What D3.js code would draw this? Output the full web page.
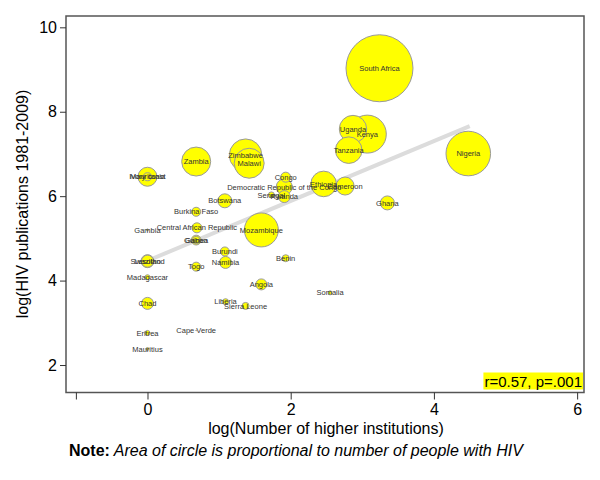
<!DOCTYPE html>
<html><head><meta charset="utf-8">
<script src="https://cdn.jsdelivr.net/npm/d3@7"></script>
<style>body{margin:0;background:#fff}svg{display:block}text{font-family:Arial,"Liberation Sans",sans-serif}</style>
</head><body><svg id="c" width="600" height="480"></svg>
<script>
const countries = ["South Africa","Nigeria","Kenya","Uganda","Tanzania","Mozambique","Zimbabwe","Malawi","Zambia","Ethiopia","Ivory coast","Mauritania","Cameroon","Democratic Republic of the Congo","Botswana","Ghana","Lesotho","Swaziland","Chad","Namibia","Rwanda","Angola","Congo","Central African Republic","Gabon","Guinea","Burkina Faso","Burundi","Togo","Benin","Sierra Leone","Liberia","Senegal","Madagascar","Eritrea","Somalia","Mauritius","Gambia","Cape Verde"];
const logInstitutions = [3.24,4.48,3.07,2.87,2.81,1.59,1.37,1.42,0.68,2.46,0.0,0.0,2.76,1.91,1.08,3.35,0.0,0.0,0.0,1.09,1.91,1.59,1.93,0.69,0.68,0.68,0.68,1.08,0.68,1.93,1.37,1.09,1.73,0.0,0.0,2.55,0.0,0.0,0.68];
const logPublications = [9.03,7.01,7.47,7.59,7.09,5.20,6.97,6.78,6.82,6.29,6.46,6.46,6.24,6.22,5.89,5.84,4.46,4.46,3.46,4.43,5.99,3.91,6.45,5.25,4.96,4.96,5.63,4.69,4.33,4.53,3.40,3.50,6.03,4.08,2.76,3.71,2.38,5.20,2.82];
const peopleWithHIV = [5600,2480,1800,935,881,1440,1324,1121,1048,816,450,80,404,319,244,244,210,179,179,179,179,151,125,125,120,70,101,101,101,61,61,45,45,31,31,20,11,5,1];
const xTicks = [-1,0,2,4,6];
const yTicks = [2,4,6,8,10];
const fitX = [0,4.5];
const fitY = [4.47,7.66];
const statLabel = "r=0.57, p=.001";

const svg = d3.select("#c");
const L=66,R=584,T=16,B=392.5;
const x = d3.scaleLinear().domain([-1.138,6.096]).range([L,R]);
const y = d3.scaleLinear().domain([1.349,10.268]).range([B,T]);
const r = d3.scaleSqrt().domain([0,5600]).range([0,33.5]);

svg.append("line").attr("x1",x(fitX[0])).attr("y1",y(fitY[0])).attr("x2",x(fitX[1])).attr("y2",y(fitY[1]))
  .attr("stroke","#dcdcdc").attr("stroke-width",4);

const data = countries.map((c,i)=>({c,x:logInstitutions[i],y:logPublications[i],h:peopleWithHIV[i]}));
svg.append("g").selectAll("circle").data(data).join("circle")
  .attr("cx",d=>x(d.x)).attr("cy",d=>y(d.y)).attr("r",d=>r(d.h))
  .attr("fill","#ffff00").attr("stroke","#999").attr("stroke-width",1);
svg.append("g").selectAll("text").data(data).join("text")
  .attr("x",d=>x(d.x)).attr("y",d=>y(d.y)).attr("dy","0.35em").attr("text-anchor","middle")
  .attr("font-size",7.5).attr("fill","#333").text(d=>d.c);

const boxG = svg.append("g");
const boxRect = boxG.append("rect").attr("fill","#ffff00");
const st = boxG.append("text").attr("x",R-2).attr("y",B-6).attr("text-anchor","end").attr("font-size",15).attr("fill","#000").text(statLabel);
const bb = st.node().getBBox();
boxRect.attr("x",bb.x-1).attr("y",bb.y).attr("width",bb.width+2).attr("height",bb.height);

svg.append("rect").attr("x",L).attr("y",T).attr("width",R-L).attr("height",B-T).attr("fill","none").attr("stroke","#555").attr("stroke-width",1.5);

const ya = svg.append("g").attr("transform",`translate(${L},0)`).call(d3.axisLeft(y).tickValues(yTicks).tickSize(6).tickPadding(3).tickFormat(d3.format("d")));
ya.select(".domain").remove();
ya.selectAll("line").attr("stroke","#333");
ya.selectAll("text").attr("font-size",16).attr("fill","#000").style("font-family","Arial,'Liberation Sans',sans-serif");
const xa = svg.append("g").attr("transform",`translate(0,${B})`).call(d3.axisBottom(x).tickValues(xTicks).tickSize(7).tickPadding(4).tickFormat(d=>d<0?"":d3.format("d")(d)));
xa.select(".domain").remove();
xa.selectAll("line").attr("stroke","#333");
xa.selectAll("text").attr("font-size",16).attr("fill","#000").style("font-family","Arial,'Liberation Sans',sans-serif");

svg.append("text").attr("transform","translate(28,204) rotate(-90)").attr("text-anchor","middle").attr("font-size",16).text("log(HIV publications 1981-2009)");
svg.append("text").attr("x",326).attr("y",434).attr("text-anchor","middle").attr("font-size",16).text("log(Number of higher institutions)");
const note = svg.append("text").attr("x",69).attr("y",456).attr("font-size",16);
note.append("tspan").attr("font-weight","bold").text("Note:");
note.append("tspan").attr("font-style","italic").text(" Area of circle is proportional to number of people with HIV");
</script></body></html>
